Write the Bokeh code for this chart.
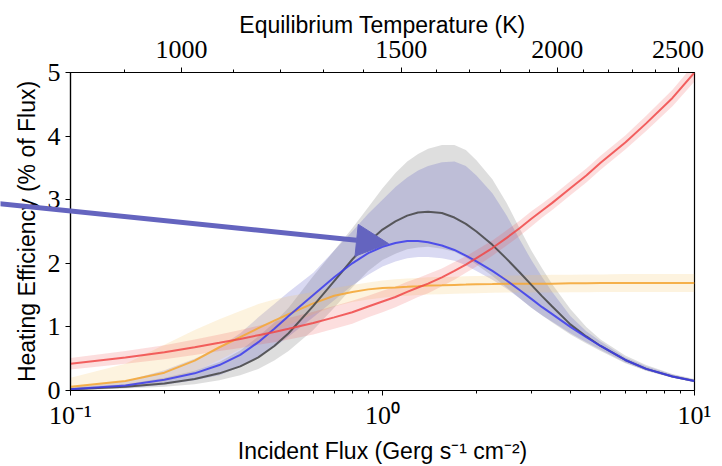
import math
from bokeh.plotting import figure
from bokeh.models import (LogAxis, FixedTicker, CustomJSTickFormatter,
                          Arrow, NormalHead, Range1d)
from bokeh.embed import file_html
from bokeh.resources import INLINE

# ---------------- data ----------------
flux = [0.1, 0.15, 0.2, 0.25, 0.3, 0.35, 0.4, 0.45, 0.5, 0.6, 0.7, 0.8, 0.9, 1.0,
        1.1, 1.2, 1.3, 1.4, 1.55, 1.7, 1.85, 2.0, 2.25, 2.5, 2.75, 3.0, 3.25, 3.5,
        4.0, 4.5, 5.0, 6.0, 7.0, 8.5, 10.0]

red_mid = [0.42, 0.52, 0.60, 0.68, 0.75, 0.81, 0.87, 0.92, 0.97, 1.06, 1.15, 1.23, 1.32, 1.40,
           1.47, 1.55, 1.62, 1.68, 1.78, 1.88, 1.98, 2.08, 2.24, 2.40, 2.55, 2.70, 2.83, 2.95,
           3.18, 3.38, 3.58, 3.90, 4.20, 4.60, 5.00]
red_lo = [0.33, 0.42, 0.49, 0.56, 0.62, 0.67, 0.72, 0.76, 0.80, 0.88, 0.97, 1.05, 1.15, 1.23,
          1.31, 1.39, 1.47, 1.53, 1.64, 1.74, 1.85, 1.95, 2.12, 2.28, 2.43, 2.58, 2.72, 2.84,
          3.07, 3.27, 3.47, 3.79, 4.08, 4.47, 4.86]
red_hi = [0.51, 0.62, 0.71, 0.80, 0.88, 0.95, 1.02, 1.08, 1.14, 1.24, 1.33, 1.41, 1.49, 1.57,
          1.63, 1.71, 1.77, 1.83, 1.92, 2.02, 2.11, 2.21, 2.36, 2.52, 2.67, 2.82, 2.94, 3.06,
          3.29, 3.49, 3.69, 4.01, 4.32, 4.73, 5.14]

orange_mid = [0.06, 0.15, 0.28, 0.47, 0.68, 0.84, 0.98, 1.10, 1.20, 1.37, 1.49, 1.55, 1.59, 1.61,
              1.62, 1.63, 1.64, 1.65, 1.655, 1.66, 1.665, 1.67, 1.675, 1.68, 1.68, 1.68, 1.68, 1.68,
              1.685, 1.685, 1.69, 1.69, 1.69, 1.69, 1.69]
orange_lo = [0.00, 0.05, 0.14, 0.30, 0.48, 0.65, 0.80, 0.93, 1.03, 1.20, 1.32, 1.39, 1.43, 1.46,
             1.48, 1.49, 1.50, 1.51, 1.515, 1.52, 1.525, 1.53, 1.535, 1.54, 1.54, 1.54, 1.54, 1.54,
             1.545, 1.545, 1.55, 1.55, 1.55, 1.55, 1.55]
orange_hi = [0.20, 0.42, 0.72, 0.95, 1.12, 1.25, 1.36, 1.43, 1.48, 1.55, 1.61, 1.66, 1.70, 1.73,
             1.75, 1.76, 1.77, 1.78, 1.785, 1.79, 1.795, 1.80, 1.805, 1.81, 1.81, 1.815, 1.815, 1.82,
             1.82, 1.825, 1.825, 1.83, 1.83, 1.83, 1.83]

black_mid = [0.02, 0.06, 0.11, 0.18, 0.27, 0.38, 0.52, 0.70, 0.90, 1.33, 1.72, 2.06, 2.33, 2.53,
             2.66, 2.75, 2.80, 2.81, 2.79, 2.72, 2.62, 2.50, 2.29, 2.07, 1.86, 1.66, 1.48, 1.32,
             1.04, 0.85, 0.70, 0.48, 0.34, 0.22, 0.15]
black_lo = [0.00, 0.03, 0.06, 0.10, 0.16, 0.24, 0.34, 0.47, 0.62, 0.95, 1.30, 1.62, 1.88, 2.05,
            2.15, 2.22, 2.25, 2.26, 2.23, 2.18, 2.09, 1.98, 1.80, 1.62, 1.45, 1.30, 1.18, 1.07,
            0.88, 0.74, 0.62, 0.43, 0.31, 0.20, 0.13]
black_hi = [0.05, 0.10, 0.20, 0.31, 0.45, 0.63, 0.85, 1.07, 1.30, 1.80, 2.20, 2.55, 2.88, 3.18,
            3.42, 3.60, 3.72, 3.80, 3.86, 3.86, 3.78, 3.62, 3.32, 2.95, 2.55, 2.20, 1.92, 1.67,
            1.28, 1.00, 0.80, 0.55, 0.40, 0.26, 0.18]

blue_mid = [0.02, 0.08, 0.17, 0.27, 0.40, 0.56, 0.76, 0.97, 1.17, 1.50, 1.78, 2.00, 2.16, 2.26,
            2.32, 2.35, 2.35, 2.33, 2.28, 2.21, 2.12, 2.03, 1.88, 1.73, 1.58, 1.44, 1.31, 1.20,
            1.00, 0.84, 0.70, 0.48, 0.34, 0.22, 0.15]
blue_lo = [0.00, 0.04, 0.09, 0.16, 0.24, 0.37, 0.52, 0.68, 0.85, 1.15, 1.42, 1.65, 1.82, 1.95,
           2.03, 2.08, 2.10, 2.10, 2.08, 2.04, 1.97, 1.88, 1.74, 1.60, 1.45, 1.30, 1.18, 1.08,
           0.90, 0.76, 0.64, 0.44, 0.31, 0.20, 0.13]
blue_hi = [0.06, 0.15, 0.32, 0.50, 0.68, 0.90, 1.15, 1.36, 1.55, 1.85, 2.20, 2.50, 2.78, 3.00,
           3.20, 3.35, 3.46, 3.53, 3.59, 3.60, 3.53, 3.38, 3.10, 2.75, 2.38, 2.05, 1.78, 1.55,
           1.17, 0.93, 0.77, 0.52, 0.38, 0.25, 0.17]

# axis ticks
x_ticks = [0.1, 1.0, 10.0]
x_tick_labels = ["10\u207b\u00b9", "10\u2070", "10\u00b9"]
x_minor = [0.2, 0.3, 0.4, 0.5, 0.6, 0.7, 0.8, 0.9, 2, 3, 4, 5, 6, 7, 8, 9]
y_ticks = [0, 1, 2, 3, 4, 5]
temp_ticks = [1000, 1500, 2000, 2500]
temp_minor = [900, 1100, 1200, 1300, 1400, 1600, 1700, 1800, 1900,
              2100, 2200, 2300, 2400]

# annotation arrow (data coords: flux, efficiency); it starts beyond the left edge
arrow_start = (0.055, 2.99)
arrow_end = (1.045, 2.36)

# equilibrium temperature <-> flux (Gerg s^-1 cm^-2), full redistribution
SIGMA = 5.670374e-8
def temp_to_flux(t):
    return 4.0 * SIGMA * t ** 4 / 1e6

NEAREST_LABEL = """
    let best = 0;
    for (let i = 0; i < tvals.length; i++) {
        if (Math.abs(Math.log(tvals[i] / tick)) < Math.abs(Math.log(tvals[best] / tick))) best = i;
    }
    return tlabels[best];
"""

# ---------------- layout ----------------
W, H = 722, 466
B_L, B_R, B_T, B_B = 70, 28, 72, 70
X0, X1 = 0.1, 10.0
Y0, Y1 = 0.0, 5.0

LABEL_FONT = "Liberation Sans"
TICK_FONT = "Liberation Serif"

p = figure(width=W, height=H, x_axis_type="log", x_range=(X0, X1), y_range=(Y0, Y1),
           output_backend="svg", toolbar_location=None,
           min_border_left=B_L, min_border_right=B_R, min_border_top=B_T, min_border_bottom=B_B)
p.background_fill_color = "white"
p.border_fill_color = "white"
p.outline_line_color = "black"
p.outline_line_width = 1.2
p.xgrid.visible = False
p.ygrid.visible = False

# bands
p.varea(x=flux, y1=black_lo, y2=black_hi, fill_color="#000000", fill_alpha=0.13)
p.varea(x=flux, y1=blue_lo, y2=blue_hi, fill_color="#4040c0", fill_alpha=0.2)
p.varea(x=flux, y1=orange_lo, y2=orange_hi, fill_color="#f7c35f", fill_alpha=0.2)
p.varea(x=flux, y1=red_lo, y2=red_hi, fill_color="#f04848", fill_alpha=0.18)

# lines
p.line(flux, orange_mid, line_color="#f4a93a", line_alpha=0.9, line_width=2)
p.line(flux, black_mid, line_color="#444444", line_alpha=0.85, line_width=2)
p.line(flux, blue_mid, line_color="#3b3bec", line_alpha=0.85, line_width=2)
p.line(flux, red_mid, line_color="#f04848", line_alpha=0.85, line_width=2)


def style_axis(ax):
    ax.axis_line_color = "black"
    ax.axis_line_width = 1.2
    ax.major_tick_line_color = "black"
    ax.minor_tick_line_color = "black"
    ax.major_tick_in = 0
    ax.major_tick_out = 5
    ax.minor_tick_in = 0
    ax.minor_tick_out = 3
    ax.major_label_text_font = TICK_FONT
    ax.major_label_text_font_size = "26px"
    ax.major_label_text_color = "black"
    ax.axis_label_text_font = LABEL_FONT
    ax.axis_label_text_font_size = "23px"
    ax.axis_label_text_font_style = "normal"
    ax.axis_label_text_color = "black"


# bottom axis
xax = p.xaxis[0]
xax.ticker = FixedTicker(ticks=x_ticks, minor_ticks=x_minor)
xax.formatter = CustomJSTickFormatter(args=dict(tvals=x_ticks, tlabels=x_tick_labels),
                                      code=NEAREST_LABEL)
xax.axis_label = "Incident Flux (Gerg s\u207b\u00b9 cm\u207b\u00b2)"
style_axis(xax)

# left axis
yax = p.yaxis[0]
yax.ticker = FixedTicker(ticks=y_ticks, minor_ticks=[])
yax.axis_label = "Heating Efficiency (% of Flux)"
style_axis(yax)

# top axis: equilibrium temperature
top_major = [temp_to_flux(t) for t in temp_ticks]
top_minor = [temp_to_flux(t) for t in temp_minor]
top = LogAxis(ticker=FixedTicker(ticks=top_major, minor_ticks=top_minor),
              formatter=CustomJSTickFormatter(args=dict(tvals=top_major,
                                                        tlabels=[str(t) for t in temp_ticks]),
                                              code=NEAREST_LABEL),
              axis_label="Equilibrium Temperature (K)")
style_axis(top)
top.major_label_standoff = 10
top.axis_label_standoff = 0
p.add_layout(top, "above")

# ---------------- transparent overlay carrying the arrow ----------------
# separate root laid exactly over the chart; same data->pixel mapping as the
# main frame but its own frame spans the whole canvas, so the arrow can start
# outside the axes as in the reference
fw, fh = W - B_L - B_R, H - B_T - B_B
dec_per_px = (math.log10(X1) - math.log10(X0)) / fw
y_per_px = (Y1 - Y0) / fh
ov_x = Range1d(10 ** (math.log10(X0) - B_L * dec_per_px), 10 ** (math.log10(X1) + B_R * dec_per_px))
ov_y = Range1d(Y0 - B_B * y_per_px, Y1 + B_T * y_per_px)

ov = figure(width=W, height=H, x_axis_type="log", x_range=ov_x, y_range=ov_y,
            output_backend="svg", toolbar_location=None,
            min_border=0, min_border_left=0, min_border_right=0,
            min_border_top=0, min_border_bottom=0,
            x_axis_location=None, y_axis_location=None,
            styles={"position": "absolute", "left": "0px", "top": "0px"})
ov.title.visible = False
ov.background_fill_alpha = 0
ov.border_fill_alpha = 0
ov.outline_line_color = None
ov.xgrid.visible = False
ov.ygrid.visible = False
ov.add_layout(Arrow(end=NormalHead(size=32, fill_color="#6464bf", line_color="#6464bf"),
                    x_start=arrow_start[0], y_start=arrow_start[1],
                    x_end=arrow_end[0], y_end=arrow_end[1],
                    line_color="#6464bf", line_width=5))

open("out.html", "w").write(file_html([p, ov], INLINE))
